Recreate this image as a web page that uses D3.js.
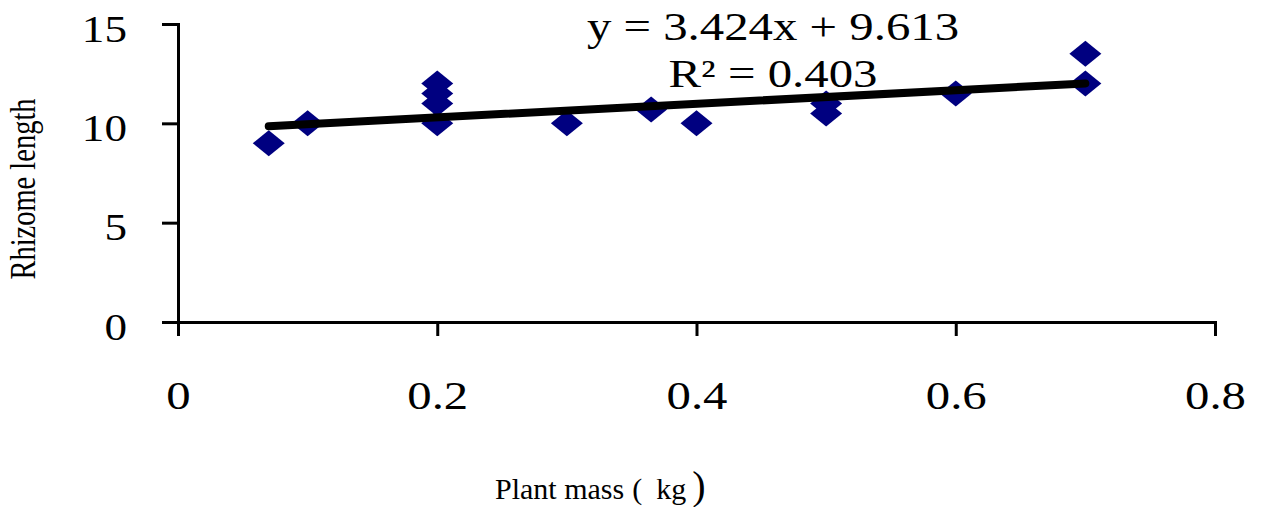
<!DOCTYPE html>
<html>
<head>
<meta charset="utf-8">
<script src="https://cdn.jsdelivr.net/npm/d3@7"></script>
<style>
  html, body { margin: 0; padding: 0; background: #fff; }
  svg { display: block; }
  text { font-family: "Liberation Serif", "Times New Roman", serif; fill: #000; }
</style>
</head>
<body>
<svg id="chart" width="1263" height="507"></svg>
<script>
// ---- data ----
const plantMass = [0.07, 0.1, 0.2, 0.2, 0.2, 0.2, 0.3, 0.365, 0.4, 0.5, 0.5, 0.6, 0.7, 0.7];
const rhizomeLength = [9, 10, 12, 11.5, 11, 10, 10, 10.7, 10, 11, 10.5, 11.5, 13.5, 12];
const xTickValues = [0, 0.2, 0.4, 0.6, 0.8];
const yTickValues = [0, 5, 10, 15];
const trendSlope = 3.424;
const trendIntercept = 9.613;
const trendRange = [0.07, 0.7];
const equationLines = ["y = 3.424x + 9.613", "R\u00B2 = 0.403"];
const xTitleParts = ["Plant mass", "(", "kg", ")"];
const yTitle = "Rhizome length";

// ---- layout ----
const stretch = 1.22;
const svg = d3.select("#chart");
const x = d3.scaleLinear().domain([0, 0.8]).range([178, 1215]);
const y = d3.scaleLinear().domain([0, 15]).range([322, 24]);

// axes
const yAxis = d3.axisLeft(y).tickValues(yTickValues).tickSize(16).tickSizeOuter(0)
  .tickFormat(d => String(d));
const gy = svg.append("g").attr("transform", `translate(${x(0)},0)`).call(yAxis);
gy.selectAll("path, line").attr("stroke", "#000").attr("stroke-width", 3);
gy.selectAll("text")
  .attr("x", null).attr("dy", null)
  .attr("transform", `translate(-51,17) scale(${stretch},1)`)
  .attr("text-anchor", "end")
  .style("font-size", "37px")
  .style("font-family", "Liberation Serif");

const xAxis = d3.axisBottom(x).tickValues(xTickValues).tickSize(14).tickSizeOuter(0)
  .tickFormat(d => String(d));
const gx = svg.append("g").attr("transform", `translate(0,${y(0)})`).call(xAxis);
gx.selectAll("path, line").attr("stroke", "#000").attr("stroke-width", 3);
gx.selectAll("text")
  .attr("y", null).attr("dy", null)
  .attr("transform", `translate(0,87) scale(${stretch},1)`)
  .attr("text-anchor", "middle")
  .style("font-size", "40px")
  .style("font-family", "Liberation Serif");
svg.selectAll(".domain").attr("stroke-linecap", "square");

// points
const pts = plantMass.map((v, i) => ({ x: v, y: rhizomeLength[i] }));
svg.append("g").selectAll("path")
  .data(pts)
  .join("path")
  .attr("transform", d => `translate(${x(d.x)},${y(d.y)})`)
  .attr("d", "M0,-13L16,0L0,13L-16,0Z")
  .attr("fill", "#000080");

// trend line
const trend = trendRange.map(v => ({ x: v, y: trendSlope * v + trendIntercept }));
svg.append("path")
  .datum(trend)
  .attr("d", d3.line().x(d => x(d.x)).y(d => y(d.y)))
  .attr("stroke", "#000")
  .attr("stroke-width", 8)
  .attr("stroke-linecap", "round")
  .attr("fill", "none");

// equation
svg.append("g").selectAll("text")
  .data(equationLines)
  .join("text")
  .attr("transform", (d, i) => `translate(773,${i === 0 ? 40 : 87}) scale(${stretch},1)`)
  .attr("text-anchor", "middle")
  .style("font-size", "40px")
  .text(d => d);

// axis titles
svg.append("text")
  .attr("transform", `translate(35,189) rotate(-90) scale(1,${stretch})`)
  .attr("text-anchor", "middle")
  .style("font-size", "28.5px")
  .text(yTitle);

const xt = svg.append("text")
  .attr("x", 495).attr("y", 499)
  .style("font-size", "30px");
xt.append("tspan").text(xTitleParts[0]);
xt.append("tspan").attr("dx", 8).text(xTitleParts[1]);
xt.append("tspan").attr("dx", 14).text(xTitleParts[2]);
xt.append("tspan").attr("dx", 6).style("font-size", "40px").text(xTitleParts[3]);
</script>
</body>
</html>
